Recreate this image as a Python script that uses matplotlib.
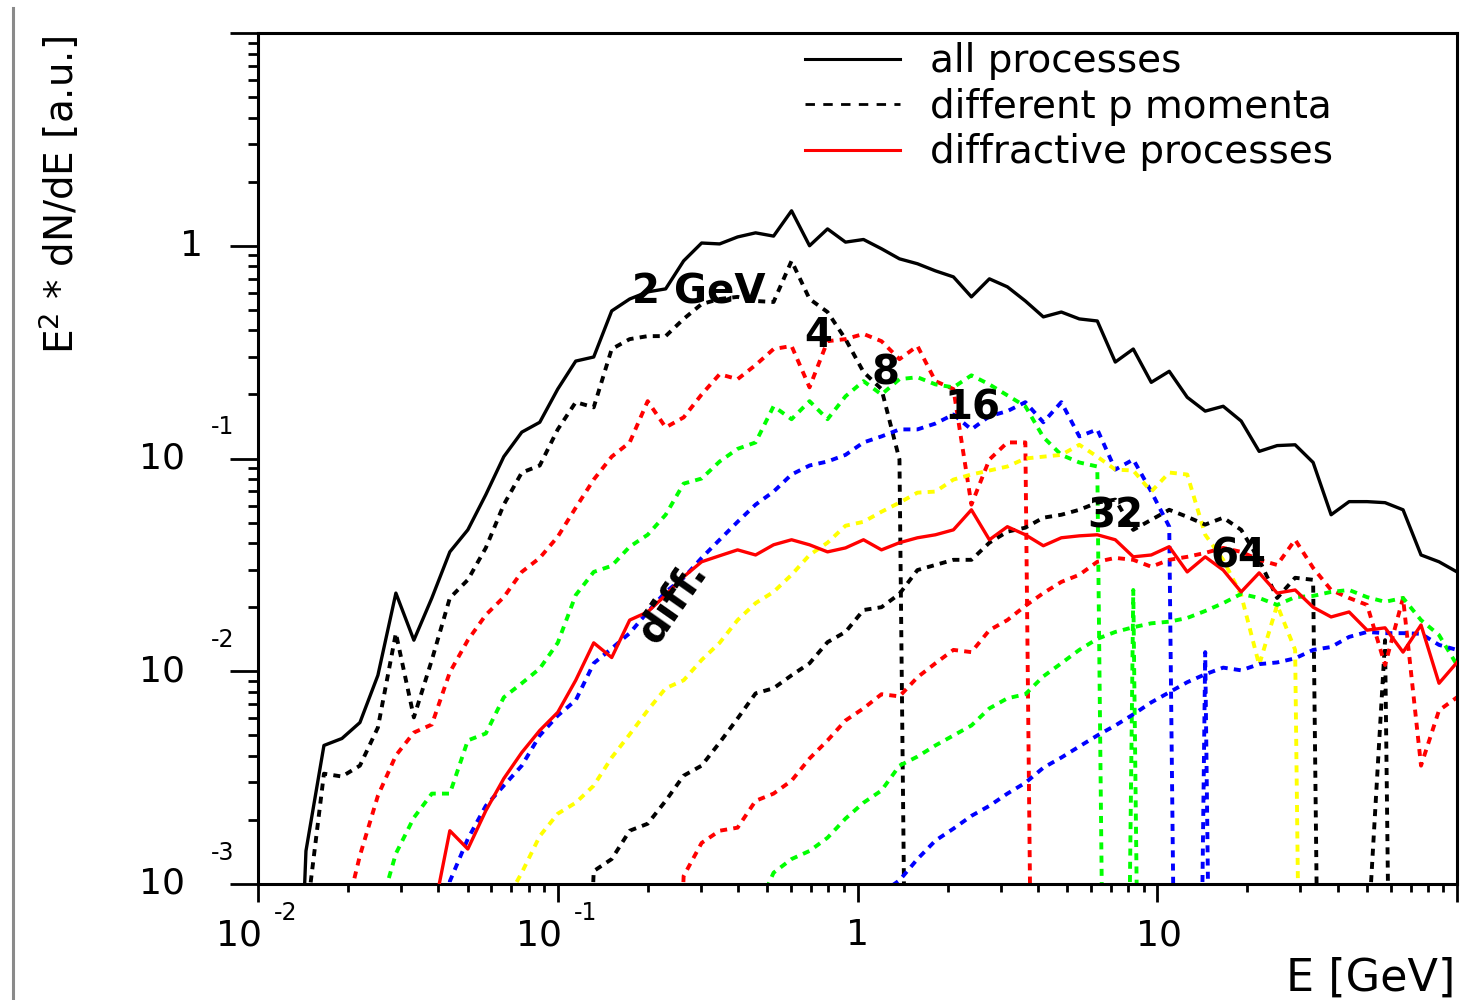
import numpy as np
import matplotlib
matplotlib.use("Agg")
import matplotlib.pyplot as plt
from matplotlib.lines import Line2D
from matplotlib.ticker import LogLocator, NullFormatter

plt.rcParams['font.family'] = ['DejaVu Sans']

# log10(E) of the histogram bins (0.06 wide)
LOG_E = np.linspace(-1.90, 2.00, 66)
E = 10 ** LOG_E

# all processes, starts at bin 0
ALL_START = 0
ALL_VALUES = [1e-5, 0.00143, 0.00448, 0.00483, 0.00574, 0.00957, 0.0233, 0.0140, 0.0221, 0.0364,
              0.0462, 0.0676, 0.102, 0.133, 0.148, 0.212, 0.287, 0.300, 0.494, 0.562,
              0.607, 0.627, 0.849, 1.03, 1.02, 1.10, 1.15, 1.11, 1.46, 1.00,
              1.20, 1.04, 1.07, 0.968, 0.868, 0.823, 0.762, 0.714, 0.575, 0.699,
              0.641, 0.550, 0.463, 0.488, 0.453, 0.443, 0.284, 0.327, 0.228, 0.257,
              0.194, 0.167, 0.176, 0.150, 0.108, 0.115, 0.116, 0.0958, 0.0544, 0.0627,
              0.0627, 0.062, 0.0574, 0.0352, 0.0327, 0.0293]

# diffractive processes
DIFF_START = 8
DIFF_VALUES = [0.000668, 0.00178, 0.00146, 0.00221, 0.00313, 0.00415, 0.00527, 0.00641, 0.00907, 0.0136,
               0.0116, 0.0174, 0.019, 0.0228, 0.0278, 0.0327, 0.0349, 0.0372, 0.0352, 0.0393,
               0.0415, 0.0393, 0.0364, 0.038, 0.0415, 0.0372, 0.0402, 0.0424, 0.0438, 0.0462,
               0.0574, 0.0415, 0.0478, 0.0438, 0.0389, 0.0424, 0.0433, 0.0438, 0.0415, 0.0345,
               0.0352, 0.0385, 0.0293, 0.0345, 0.0299, 0.0236, 0.029, 0.0233, 0.0241, 0.02,
               0.018, 0.019, 0.0156, 0.016, 0.0123, 0.0165, 0.00878, 0.011]

# single proton momenta (GeV); zeros are empty bins
P2_START = 0
P2_VALUES = [1e-5, 0.00067, 0.0033, 0.0032, 0.0036, 0.00544, 0.0151, 0.00607, 0.0113, 0.0221,
             0.0269, 0.038, 0.0607, 0.0859, 0.0927, 0.137, 0.184, 0.174, 0.327, 0.364,
             0.376, 0.376, 0.453, 0.532, 0.562, 0.575, 0.550, 0.544, 0.849, 0.562,
             0.488, 0.364, 0.255, 0.212, 0.0989, 0]

P4_START = 3
P4_VALUES = [0.00061, 0.00136, 0.0026, 0.00402, 0.00515, 0.00562, 0.00989, 0.014, 0.0184, 0.0223,
             0.0293, 0.0341, 0.0429, 0.0587, 0.0796, 0.102, 0.119, 0.186, 0.14, 0.156,
             0.2, 0.249, 0.236, 0.275, 0.327, 0.338, 0.216, 0.356, 0.364, 0.385,
             0.356, 0.293, 0.338, 0.231, 0.212, 0.0607, 0.0989, 0.119, 0.119, 0]

P8_START = 5
P8_VALUES = [0.000706, 0.00139, 0.00205, 0.00266, 0.00266, 0.00473, 0.0051, 0.00754, 0.00878, 0.0103,
             0.0136, 0.0228, 0.0293, 0.0313, 0.0385, 0.0438, 0.0544, 0.0762, 0.0805, 0.0968,
             0.111, 0.119, 0.176, 0.153, 0.186, 0.153, 0.196, 0.231, 0.2, 0.236,
             0.241, 0.223, 0.216, 0.246, 0.223, 0.198, 0.176, 0.126, 0.104, 0.0958,
             0.0917, 0, 0.0241, 0]

P16_START = 8
P16_VALUES = [1e-5, 0.00103, 0.00163, 0.00233, 0.0029, 0.0036, 0.00499, 0.00619, 0.0073, 0.0109,
              0.0128, 0.0151, 0.019, 0.0236, 0.0275, 0.0341, 0.0415, 0.0504, 0.0607, 0.0699,
              0.0841, 0.0927, 0.0968, 0.104, 0.119, 0.127, 0.137, 0.137, 0.146, 0.161,
              0.137, 0.158, 0.167, 0.184, 0.148, 0.184, 0.127, 0.137, 0.0887, 0.0989,
              0.0699, 0.0478, 0, 0.0123, 0]

P32_START = 12
P32_VALUES = [0.000796, 0.00113, 0.00168, 0.00214, 0.00241, 0.0029, 0.00393, 0.00505, 0.00655, 0.00832,
              0.00907, 0.0113, 0.0136, 0.0174, 0.0209, 0.0236, 0.0284, 0.0352, 0.0402, 0.0483,
              0.0504, 0.0562, 0.062, 0.0691, 0.0699, 0.0796, 0.0841, 0.0878, 0.0917, 0.1,
              0.102, 0.104, 0.116, 0.102, 0.0887, 0.0878, 0.0699, 0.0859, 0.0841, 0.0438,
              0.0334, 0.0228, 0.0107, 0.0205, 0.0126, 0]

P64_START = 16
P64_VALUES = [1e-5, 0.00115, 0.00131, 0.00178, 0.00192, 0.00246, 0.00323, 0.0036, 0.00462, 0.006,
              0.00787, 0.00832, 0.00957, 0.0109, 0.0137, 0.0153, 0.0194, 0.02, 0.0231, 0.0299,
              0.0316, 0.0334, 0.0334, 0.0402, 0.0453, 0.0473, 0.0527, 0.0544, 0.0574, 0.062,
              0.0641, 0.0462, 0.0515, 0.0574, 0.0532, 0.0489, 0.0527, 0.0462, 0.0334, 0.0221,
              0.0275, 0.0269, 0, 0, 0.000483, 0.014, 0]

P128_START = 21
P128_VALUES = [1e-5, 0.00109, 0.00156, 0.00178, 0.00184, 0.00246, 0.00266, 0.00306, 0.00389, 0.00473,
               0.00587, 0.00669, 0.0078, 0.00762, 0.00937, 0.0109, 0.0126, 0.0123, 0.0156, 0.0174,
               0.0203, 0.0233, 0.0263, 0.0284, 0.0327, 0.0341, 0.0334, 0.031, 0.0334, 0.0345,
               0.036, 0.038, 0.0364, 0.0334, 0.0316, 0.0415, 0.0306, 0.0241, 0.0221, 0.0205,
               0.0107, 0.0221, 0.0036, 0.00655, 0.00754]

P256_START = 26
P256_VALUES = [0.00073, 0.00113, 0.00131, 0.00143, 0.00165, 0.00203, 0.00241, 0.00275, 0.0036, 0.00397,
               0.00448, 0.00499, 0.00556, 0.00669, 0.00746, 0.0078, 0.00946, 0.0109, 0.0126, 0.0142,
               0.0153, 0.0161, 0.0168, 0.0171, 0.0178, 0.0192, 0.0209, 0.0231, 0.0221, 0.0205,
               0.0223, 0.0226, 0.0236, 0.0241, 0.0223, 0.0212, 0.0221, 0.0174, 0.0148, 0.0107]

P512_START = 33
P512_VALUES = [0.000907, 0.00104, 0.00131, 0.0016, 0.00182, 0.00209, 0.00233, 0.00266, 0.00299, 0.00352,
               0.00393, 0.00443, 0.00499, 0.00556, 0.00627, 0.00714, 0.00796, 0.00888, 0.00968, 0.0104,
               0.0101, 0.0108, 0.011, 0.0115, 0.0126, 0.013, 0.0145, 0.0153, 0.0151, 0.0151,
               0.015, 0.0133, 0.0126]

MOMENTUM_CURVES = [(P2_START, P2_VALUES), (P4_START, P4_VALUES), (P8_START, P8_VALUES),
                   (P16_START, P16_VALUES), (P32_START, P32_VALUES), (P64_START, P64_VALUES),
                   (P128_START, P128_VALUES), (P256_START, P256_VALUES), (P512_START, P512_VALUES)]
MOMENTUM_COLORS = ['black', 'red', '#00ff00', 'blue', '#ffff00', 'black', 'red', '#00ff00', 'blue']

# curve labels: text, E, y, rotation
CURVE_LABELS = [('2 GeV', 0.295, 0.60, 0), ('4', 0.741, 0.375, 0), ('8', 1.24, 0.25, 0),
                ('16', 2.42, 0.171, 0), ('32', 7.24, 0.0535, 0), ('64', 18.6, 0.0347, 0),
                ('diff.', 0.242, 0.0212, 55)]

LEGEND_LABELS = ['all processes', 'different p momenta', 'diffractive processes']


def curve(start, values):
    y = np.asarray(values, dtype=float)
    x = E[start:start + len(y)]
    # empty bins are pushed far below the axis so the line drops to the bottom
    return x, np.where(y > 0, y, 1e-9)


fig = plt.figure(figsize=(14.62, 10), dpi=100)
ax = fig.add_axes([258 / 1462, 116 / 1000, 1199 / 1462, 851 / 1000])

dotted = (0, (1.8, 1.6))
for (start, vals), col in zip(MOMENTUM_CURVES, MOMENTUM_COLORS):
    x, y = curve(start, vals)
    ax.plot(x, y, color=col, lw=2.8, linestyle=dotted, zorder=2)

x, y = curve(DIFF_START, DIFF_VALUES)
ax.plot(x, y, color='red', lw=2.4, zorder=3)
x, y = curve(ALL_START, ALL_VALUES)
ax.plot(x, y, color='black', lw=2.4, zorder=4)

ax.set_xscale('log')
ax.set_yscale('log')
ax.set_xlim(1e-2, 100)
ax.set_ylim(1e-3, 10)

for sp in ax.spines.values():
    sp.set_linewidth(2.2)

ax.xaxis.set_major_locator(LogLocator(base=10))
ax.xaxis.set_minor_locator(LogLocator(base=10, subs=np.arange(2, 10)))
ax.yaxis.set_major_locator(LogLocator(base=10))
ax.yaxis.set_minor_locator(LogLocator(base=10, subs=np.arange(2, 10)))
ax.xaxis.set_minor_formatter(NullFormatter())
ax.yaxis.set_minor_formatter(NullFormatter())
ax.tick_params(axis='both', which='both', direction='out', width=2,
               labelbottom=False, labelleft=False, top=False, right=False)
ax.tick_params(axis='y', which='major', length=20)
ax.tick_params(axis='y', which='minor', length=7)
ax.tick_params(axis='x', which='major', length=13)
ax.tick_params(axis='x', which='minor', length=6)

# decade labels drawn as "10" with a raised exponent
for e in (-3, -2, -1, 0):
    if e == 0:
        ax.annotate('1', xy=(0, 1), xycoords=('axes fraction', 'data'), xytext=(-66, 0),
                    textcoords='offset pixels', ha='center', va='center', fontsize=26)
        continue
    ax.annotate('10', xy=(0, 10.0 ** e), xycoords=('axes fraction', 'data'), xytext=(-96, 0),
                textcoords='offset pixels', ha='center', va='center', fontsize=26)
    ax.annotate(str(e), xy=(0, 10.0 ** e), xycoords=('axes fraction', 'data'), xytext=(-47, 31),
                textcoords='offset pixels', ha='left', va='center', fontsize=17)

for e in (-2, -1, 0, 1):
    if e == 0:
        txt, dx = '1', 0
    elif e == 1:
        txt, dx = '10', 2
    else:
        txt, dx = '10', -19
    ax.annotate(txt, xy=(10.0 ** e, 0), xycoords=('data', 'axes fraction'), xytext=(dx, -51),
                textcoords='offset pixels', ha='center', va='center', fontsize=26)
    if e < 0:
        ax.annotate(str(e), xy=(10.0 ** e, 0), xycoords=('data', 'axes fraction'), xytext=(16, -29),
                    textcoords='offset pixels', ha='left', va='center', fontsize=17)

for txt, ex, ey, rot in CURVE_LABELS:
    ax.text(ex, ey, txt, fontsize=29, fontweight='bold', ha='center', va='center',
            rotation=rot, zorder=6)

handles = [Line2D([], [], color='black', lw=2.2),
           Line2D([], [], color='black', lw=2.0, linestyle=(0, (3.4, 3.0))),
           Line2D([], [], color='red', lw=2.2)]
ax.legend(handles, LEGEND_LABELS, loc='upper left', bbox_to_anchor=(0.456, 0.989),
          frameon=False, fontsize=28, handlelength=2.44, handletextpad=0.77,
          labelspacing=0.19, borderpad=0, borderaxespad=0)

fig.text(1455 / 1462, 0.022, 'E [GeV]', ha='right', va='center', fontsize=32)
fig.text(60 / 1462, 0.805, r'E$^{2}$ * dN/dE [a.u.]', rotation=90, ha='center', va='center',
         fontsize=28)

# thin grey frame edge on the far left
fig.add_artist(Line2D([13 / 1462, 13 / 1462], [0, 0.992], color='#8a8a8a', lw=2.2,
                      transform=fig.transFigure))

fig.savefig('out.png', dpi=100, facecolor='white')
